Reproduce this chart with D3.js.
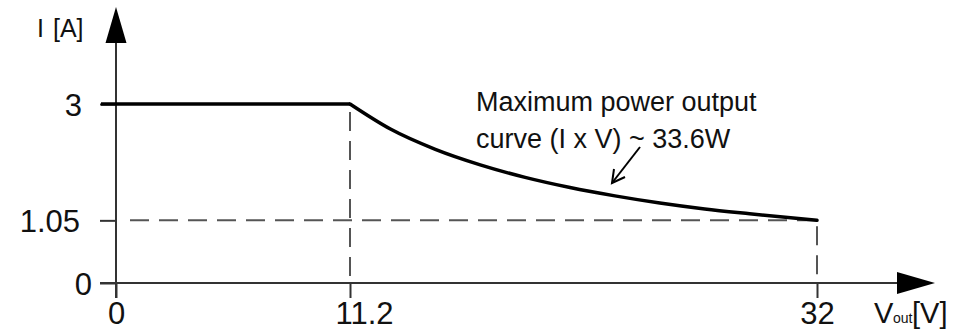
<html>
<head>
  <title>Maximum power output curve</title>
  <script src='https://d3js.org/d3.v7.min.js'></script>
  <style>
    body { margin: 0; background: #fff; }
    text { fill: #111; }
  </style>
</head>
<body>
  <script>

// values (I x V ~ 33.6 W beyond 11.2 V)
var voltage = [0, 11.2, 13, 15, 17, 19, 21, 23, 25, 27, 29, 32];
var current = [3, 3, 2.58, 2.24, 1.98, 1.77, 1.6, 1.46, 1.34, 1.24, 1.16, 1.05];
var xTicks = [0, 11.2, 32];
var yTicks = [0, 1.05, 3];
var kneeV = 11.2, endV = 32, endI = 1.05, maxI = 3;

var width = 955,
    height = 331;

var svg = d3.select('body')
  .append('svg')
  .attr('width', width)
  .attr('height', height);

// schematic chart: the knee is not drawn to scale, so a piecewise scale
var x = d3.scaleLinear()
  .domain([0, 11.2, 32])
  .range([116, 350, 817]);

var y = d3.scaleLinear()
  .domain([0, 3])
  .range([283, 104]);

var axisColor = '#333';
var dashColor = '#555';
var font = 'Liberation Sans, Arial, sans-serif';

// dashed guides
var guides = svg.append('g')
  .attr('stroke', dashColor)
  .attr('stroke-width', 2)
  .attr('stroke-dasharray', '19,10');

guides.append('line')
  .attr('x1', x(0) + 14).attr('x2', x(endV))
  .attr('y1', y(endI)).attr('y2', y(endI));

guides.append('line')
  .attr('x1', x(kneeV)).attr('x2', x(kneeV))
  .attr('y1', y(maxI) + 8).attr('y2', y(0));

guides.append('line')
  .attr('x1', x(endV)).attr('x2', x(endV))
  .attr('y1', y(endI) + 6).attr('y2', y(0));

// axes
var yAxis = svg.append('g')
  .attr('transform', 'translate(' + x(0) + ',0)')
  .call(d3.axisLeft(y).tickValues(yTicks).tickSize(16).tickPadding(20)
    .tickFormat(function(d){ return String(d); }));

var xAxis = svg.append('g')
  .attr('transform', 'translate(0,' + y(0) + ')')
  .call(d3.axisBottom(x).tickValues(xTicks).tickSize(15)
    .tickFormat(function(d){ return String(d); }));

[yAxis, xAxis].forEach(function(ax){
  ax.select('.domain').remove();
  ax.selectAll('.tick line').attr('stroke', axisColor).attr('stroke-width', 2);
});

yAxis.selectAll('.tick text')
  .attr('font-family', font)
  .attr('font-size', 31)
  .attr('fill', '#111')
  .attr('dy', '0.36em')
  .attr('dx', function(d){ return d === 0 ? 12 : (d === 3 ? 2 : 0); });

xAxis.selectAll('.tick text')
  .attr('font-family', font)
  .attr('font-size', 31)
  .attr('fill', '#111')
  .attr('y', 41)
  .attr('dy', 0)
  .attr('dx', function(d){ return d === 11.2 ? 14 : 0; });

// axis lines with arrow heads
svg.append('line')
  .attr('x1', x(0)).attr('x2', x(0))
  .attr('y1', y(0) + 15).attr('y2', 40)
  .attr('stroke', axisColor).attr('stroke-width', 2);

svg.append('path')
  .attr('d', 'M' + x(0) + ',7L' + (x(0) - 10.5) + ',43L' + (x(0) + 10.5) + ',43Z')
  .attr('fill', '#000');

svg.append('line')
  .attr('x1', 100).attr('x2', 900)
  .attr('y1', y(0)).attr('y2', y(0))
  .attr('stroke', axisColor).attr('stroke-width', 2);

svg.append('path')
  .attr('d', 'M935,' + y(0) + 'L897,' + (y(0) - 11) + 'L897,' + (y(0) + 11) + 'Z')
  .attr('fill', '#000');

// power curve: flat current limit, then the constant power hyperbola
var pts = voltage.map(function(v, i){ return [v, current[i]]; });
var flat = pts.filter(function(d){ return d[0] <= kneeV; });
var hyper = pts.filter(function(d){ return d[0] >= kneeV; });

var line = d3.line()
  .x(function(d){ return x(d[0]); })
  .y(function(d){ return y(d[1]); });

svg.append('path')
  .datum(flat)
  .attr('fill', 'none')
  .attr('stroke', '#000')
  .attr('stroke-width', 3.5)
  .attr('d', line);

svg.append('path')
  .datum(hyper)
  .attr('fill', 'none')
  .attr('stroke', '#000')
  .attr('stroke-width', 3.5)
  .attr('stroke-linecap', 'round')
  .attr('d', line.curve(d3.curveMonotoneX));

// left part of flat line reaches over the tick
svg.append('line')
  .attr('x1', 101).attr('x2', x(0))
  .attr('y1', y(maxI)).attr('y2', y(maxI))
  .attr('stroke', '#000').attr('stroke-width', 3.5);

// labels
var yl = svg.append('text')
  .attr('y', 37)
  .attr('font-family', font)
  .attr('font-size', 25);
yl.append('tspan').attr('x', 37).text('I');
yl.append('tspan').attr('x', 53).text('[A]');

var vl = svg.append('text')
  .attr('y', 323)
  .attr('font-family', font)
  .attr('font-size', 29);
vl.append('tspan').attr('x', 874).text('V');
vl.append('tspan').attr('x', 893).attr('font-size', 14).text('out');
vl.append('tspan').attr('x', 912).text('[V]');

var note = svg.append('text')
  .attr('font-family', font)
  .attr('font-size', 27);
note.append('tspan').attr('x', 476).attr('y', 111).text('Maximum power output');
note.append('tspan').attr('x', 476).attr('y', 148).text('curve (I x V) ~ 33.6W');

// pointer arrow
svg.append('line')
  .attr('x1', 640).attr('y1', 147)
  .attr('x2', 612).attr('y2', 183)
  .attr('stroke', '#000').attr('stroke-width', 2);

svg.append('path')
  .attr('d', 'M614,169L612,183L625,177')
  .attr('fill', 'none')
  .attr('stroke', '#000').attr('stroke-width', 2);

  </script>
</body>
</html>
